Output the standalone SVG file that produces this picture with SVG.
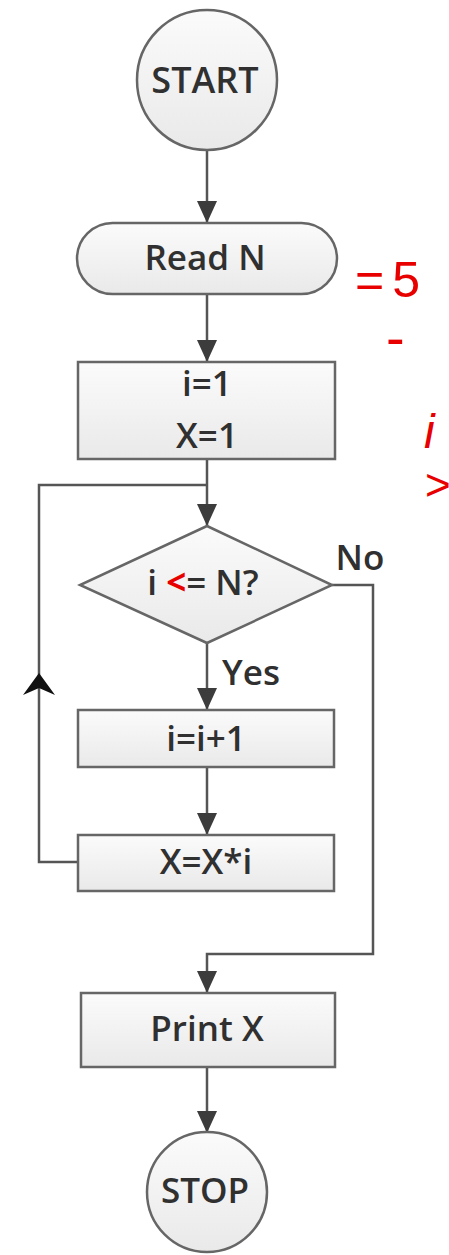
<svg xmlns="http://www.w3.org/2000/svg" width="449" height="1255" viewBox="0 0 449 1255">
<style>
.node{fill:url(#g);stroke:#666;stroke-width:2.5}
.lbl{font-family:"Open Sans","Noto Sans",sans-serif;font-size:35px;font-weight:600;fill:#303030;text-anchor:middle}
.edge{fill:none;stroke:#555;stroke-width:2.5}
.red{font-family:"Liberation Sans",sans-serif;fill:#e80000}
</style>
<defs>
<linearGradient id="g" x1="0" y1="0" x2="0" y2="1">
<stop offset="0" stop-color="#fbfbfb"/>
<stop offset="1" stop-color="#e9e9e9"/>
</linearGradient>
<marker id="ah" viewBox="0 0 22 22" markerWidth="22" markerHeight="22" refX="22" refY="11" orient="auto" markerUnits="userSpaceOnUse">
<path d="M0,1 L22,11 L0,21 Z" fill="#3c3c3c"/>
</marker>
</defs>
<rect width="449" height="1255" fill="#fff"/>
<g id="connectors">
<line class="edge" x1="207" y1="150" x2="207" y2="223" marker-end="url(#ah)"/>
<line class="edge" x1="207" y1="294" x2="207" y2="362" marker-end="url(#ah)"/>
<line class="edge" x1="207" y1="459" x2="207" y2="526" marker-end="url(#ah)"/>
<line class="edge" x1="207" y1="643" x2="207" y2="710" marker-end="url(#ah)"/>
<line class="edge" x1="207" y1="767" x2="207" y2="835" marker-end="url(#ah)"/>
<polyline class="edge" points="78,862 39,862 39,485 207,485"/>
<path d="M39,673 L23,695 L39,688 L55,695 Z" fill="#111"/>
<polyline class="edge" points="332,585 373,585 373,954 207,954 207,993" marker-end="url(#ah)"/>
<line class="edge" x1="207" y1="1067" x2="207" y2="1133" marker-end="url(#ah)"/>
<text class="lbl" x="360" y="570">No</text>
<text class="lbl" x="251" y="685">Yes</text>
</g>
<g id="start">
<circle class="node" cx="207" cy="80" r="70"/>
<text class="lbl" x="205" y="93" style="font-size:36px">START</text>
</g>
<g id="read">
<rect class="node" x="77" y="223" width="260" height="71" rx="35.5"/>
<text class="lbl" x="205" y="270">Read N</text>
</g>
<g id="init">
<rect class="node" x="78" y="362" width="257" height="97"/>
<text class="lbl" x="207" y="396">i=1</text>
<text class="lbl" x="207" y="448">X=1</text>
</g>
<g id="decision">
<polygon class="node" points="207,526 332,585 207,643 80,585"/>
<text class="lbl" x="203" y="595"><tspan>i </tspan><tspan fill="#e80000" font-weight="bold">&lt;</tspan><tspan>= N?</tspan></text>
</g>
<g id="inc">
<rect class="node" x="78" y="710" width="256" height="57"/>
<text class="lbl" x="206" y="751">i=i+1</text>
</g>
<g id="mult">
<rect class="node" x="78" y="835" width="256" height="56"/>
<text class="lbl" x="206" y="874">X=X*i</text>
</g>
<g id="print">
<rect class="node" x="81" y="993" width="254" height="74"/>
<text class="lbl" x="207" y="1041">Print X</text>
</g>
<g id="stop">
<circle class="node" cx="207" cy="1192" r="60"/>
<text class="lbl" x="205" y="1203" style="font-size:35px">STOP</text>
</g>
<g id="annotations">
<text class="red" x="355" y="297" font-size="50" letter-spacing="8">=5</text>
<text class="red" x="386" y="357" font-size="56">-</text>
<text class="red" x="424" y="448" font-size="48" font-style="italic">i</text>
<text class="red" x="425" y="500" font-size="44">&gt;</text>
</g>
</svg>
